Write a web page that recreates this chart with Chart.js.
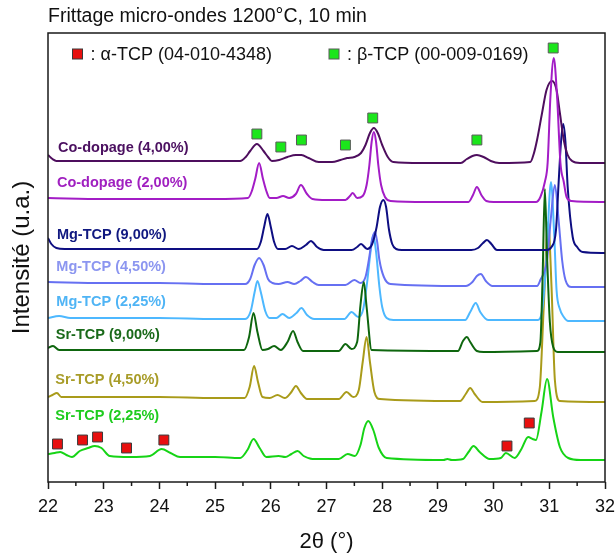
<!DOCTYPE html>
<html>
<head>
<meta charset="utf-8">
<script src="https://cdn.jsdelivr.net/npm/chart.js@4.4.1/dist/chart.umd.min.js"></script>
<style>
  html, body { margin: 0; padding: 0; background: #fff; }
  canvas { display: block; }
</style>
</head>
<body>
<canvas id="xrdChart" width="615" height="556"></canvas>
<script>
// [2θ (°), intensité (u.a.)] - courbes deja decalees comme sur la figure
const sr225 = [[22.00,33],[22.12,34],[22.22,35],[22.33,32],[22.43,30],[22.57,36],[22.72,39],[22.84,41],[22.96,39],[23.11,31],[23.47,30],[23.83,31],[24.04,38],[24.20,34],[24.37,30],[25.00,30],[25.45,29],[25.58,37],[25.69,48],[25.80,39],[25.92,30],[26.14,31],[26.26,30],[26.37,33],[26.48,36],[26.59,31],[26.75,28],[27.22,28],[27.38,33],[27.51,31],[27.61,42],[27.68,59],[27.75,66],[27.84,57],[27.94,39],[28.08,29],[29.10,27],[29.17,28],[29.25,27],[29.45,28],[29.55,35],[29.64,41],[29.75,35],[29.93,28],[30.13,29],[30.22,34],[30.38,29],[30.50,38],[30.62,50],[30.70,48],[30.76,47],[30.86,75],[30.96,108],[31.07,70],[31.19,40],[31.34,29],[31.56,27],[32.00,27]];
const sr450 = [[22.00,90],[22.08,92],[22.16,94],[22.24,90],[23.00,90],[24.00,90],[25.00,89],[25.53,89],[25.62,100],[25.70,121],[25.77,105],[25.85,90],[25.98,89],[26.12,92],[26.25,89],[26.37,95],[26.45,101],[26.54,94],[26.65,88],[27.22,88],[27.36,95],[27.48,90],[27.58,97],[27.65,125],[27.72,150],[27.78,125],[27.86,95],[27.96,88],[29.40,86],[29.50,93],[29.58,99],[29.66,93],[29.80,85],[30.74,86],[30.83,100],[30.90,180],[30.98,265],[31.04,200],[31.10,107],[31.19,86],[32.00,85]];
const sr900 = [[22.00,139],[22.09,141],[22.20,137],[23.00,137],[24.00,137],[25.00,137],[25.52,137],[25.61,150],[25.69,174],[25.76,155],[25.85,137],[25.95,138],[26.06,141],[26.18,137],[26.30,145],[26.40,156],[26.48,145],[26.58,136],[27.22,136],[27.34,143],[27.45,138],[27.55,145],[27.61,182],[27.67,205],[27.72,180],[27.81,137],[29.36,136],[29.45,146],[29.52,150],[29.58,145],[29.70,136],[29.82,135],[30.78,136],[30.84,145],[30.88,210],[30.92,298],[30.96,230],[31.01,165],[31.07,140],[31.15,135],[32.00,135]];
const mg225 = [[22.00,169],[22.20,171],[22.40,169],[23.00,169],[24.00,169],[25.00,168],[25.54,168],[25.64,176],[25.71,195],[25.76,206],[25.82,195],[25.90,176],[25.98,169],[26.10,169],[26.21,173],[26.33,169],[26.46,174],[26.55,179],[26.65,172],[26.78,168],[27.32,168],[27.45,175],[27.57,170],[27.66,178],[27.73,205],[27.79,235],[27.84,252],[27.89,235],[27.95,200],[28.00,180],[28.08,169],[28.20,167],[29.49,167],[29.58,175],[29.68,184],[29.76,175],[29.90,167],[30.80,167],[30.88,180],[30.95,230],[31.03,305],[31.09,250],[31.13,197],[31.19,178],[31.26,170],[31.34,166],[32.00,166]];
const mg450 = [[22.00,205],[23.00,204],[24.00,204],[25.00,203],[25.54,203],[25.63,208],[25.71,222],[25.79,229],[25.87,222],[25.95,208],[26.03,204],[26.14,203],[26.30,205],[26.42,203],[26.53,206],[26.63,210],[26.75,205],[26.86,202],[27.34,202],[27.50,207],[27.61,204],[27.70,210],[27.76,227],[27.82,248],[27.87,255],[27.91,245],[27.95,227],[28.03,210],[28.15,203],[29.50,201],[29.62,205],[29.70,211],[29.77,213],[29.86,206],[29.98,201],[30.78,201],[30.84,207],[30.96,227],[31.03,270],[31.10,302],[31.17,265],[31.23,227],[31.29,207],[31.40,200],[32.00,200]];
const mg900 = [[22.00,249],[22.06,243],[22.15,239],[22.30,238],[23.00,238],[24.00,238],[25.00,238],[25.75,238],[25.82,245],[25.88,260],[25.94,273],[26.00,260],[26.06,245],[26.13,238],[26.26,238],[26.38,241],[26.50,238],[26.63,242],[26.72,246],[26.83,240],[26.95,237],[27.45,237],[27.55,240],[27.62,243],[27.73,238],[27.82,243],[27.90,260],[27.96,280],[28.02,287],[28.07,280],[28.12,258],[28.18,243],[28.25,238],[28.35,237],[29.60,237],[29.72,239],[29.81,244],[29.88,247],[29.96,243],[30.06,237],[30.95,237],[31.04,240],[31.12,257],[31.17,307],[31.21,345],[31.25,363],[31.29,345],[31.33,300],[31.42,250],[31.50,240],[31.60,235],[32.00,234]];
const co200 = [[22.00,289],[23.00,288],[24.00,288],[25.00,288],[25.59,289],[25.66,296],[25.72,308],[25.79,324],[25.86,308],[25.92,296],[25.98,289],[26.10,289],[26.22,291],[26.33,289],[26.45,293],[26.54,302],[26.65,293],[26.75,288],[27.00,287],[27.34,287],[27.42,291],[27.47,294],[27.55,289],[27.65,291],[27.72,302],[27.77,322],[27.81,345],[27.85,355],[27.89,345],[27.93,322],[27.98,302],[28.05,290],[28.15,286],[28.80,285],[29.55,285],[29.63,292],[29.70,300],[29.78,292],[29.87,286],[30.00,285],[30.76,285],[30.84,290],[30.92,305],[30.97,324],[31.02,390],[31.08,429],[31.14,390],[31.20,324],[31.26,305],[31.31,290],[31.40,286],[32.00,285]];
const co400 = [[22.00,332],[22.08,328],[22.15,326],[23.00,326],[24.00,326],[25.00,326],[25.45,326],[25.55,330],[25.63,336],[25.75,343],[25.87,336],[25.95,330],[26.02,326],[26.15,327],[26.30,330],[26.45,332],[26.55,332],[26.68,329],[26.86,325],[27.10,325],[27.25,327],[27.37,329],[27.50,330],[27.62,334],[27.70,342],[27.78,354],[27.85,359],[27.92,354],[28.00,342],[28.10,330],[28.20,325],[28.70,324],[29.41,324],[29.52,328],[29.62,331],[29.70,332],[29.82,330],[29.95,326],[30.10,324],[30.66,325],[30.72,333],[30.78,347],[30.87,374],[30.95,397],[31.05,406],[31.13,397],[31.19,374],[31.26,347],[31.33,332],[31.41,326],[31.55,324],[32.00,324]];

// reperes des phases
const alphaTCP = [[22.17,43],[22.62,47],[22.89,50],[23.41,39],[24.08,47],[30.24,41],[30.64,64]];
const betaTCP = [[25.75,353],[26.18,340],[26.55,347],[27.34,342],[27.83,369],[29.70,347],[31.07,439]];

const xTicks = [22, 23, 24, 25, 26, 27, 28, 29, 30, 31, 32];

const FONT = "'Liberation Sans', Arial, sans-serif";

const series = [
  { name: "Co-dopage (2,00%)", data: co200, color: "#A31CC6", label: "#A020C0", at: [22.16, 304] },
  { name: "Co-dopage (4,00%)", data: co400, color: "#4E0E5E", label: "#4B1060", at: [22.18, 339] },
  { name: "Mg-TCP (9,00%)", data: mg900, color: "#0E0E82", label: "#101880", at: [22.16, 252] },
  { name: "Sr-TCP (9,00%)", data: sr900, color: "#0E660E", label: "#1A6A1A", at: [22.14, 152] },
  { name: "Mg-TCP (4,50%)", data: mg450, color: "#6670F2", label: "#8C96F0", at: [22.15, 220] },
  { name: "Mg-TCP (2,25%)", data: mg225, color: "#4DB8FF", label: "#4FB4F5", at: [22.15, 185] },
  { name: "Sr-TCP (4,50%)", data: sr450, color: "#A99B1A", label: "#A89C28", at: [22.13, 107] },
  { name: "Sr-TCP (2,25%)", data: sr225, color: "#16D416", label: "#1ECC1E", at: [22.13, 71] }
];

const toXY = arr => arr.map(p => ({ x: p[0], y: p[1] }));

const datasets = [
  {
    label: "alpha", data: toXY(alphaTCP), showLine: false,
    pointStyle: "rect", pointRadius: 7, pointHoverRadius: 7,
    backgroundColor: "#E8100F", borderColor: "#3a3a3a", borderWidth: 1
  },
  {
    label: "beta", data: toXY(betaTCP), showLine: false,
    pointStyle: "rect", pointRadius: 7, pointHoverRadius: 7,
    backgroundColor: "#1BE61B", borderColor: "#5a5a5a", borderWidth: 1
  }
].concat(series.map(s => ({
  label: s.name,
  data: toXY(s.data),
  showLine: true,
  borderColor: s.color,
  borderWidth: 2,
  pointRadius: 0,
  cubicInterpolationMode: "monotone",
  fill: false
})));

const decorations = {
  id: "decorations",
  afterDraw(chart) {
    const { ctx, chartArea: a, scales: { x, y } } = chart;
    ctx.save();

    // cadre + graduations secondaires
    ctx.strokeStyle = "#1a1a1a";
    ctx.lineWidth = 1.5;
    ctx.strokeRect(a.left, a.top, a.right - a.left, a.bottom - a.top);
    for (let i = 0; i < xTicks.length - 1; i++) {
      const px = x.getPixelForValue((xTicks[i] + xTicks[i + 1]) / 2);
      ctx.beginPath();
      ctx.moveTo(px, a.bottom);
      ctx.lineTo(px, a.bottom + 4);
      ctx.stroke();
    }

    // titre
    ctx.fillStyle = "#111";
    ctx.textAlign = "left";
    ctx.textBaseline = "middle";
    ctx.font = "19.5px " + FONT;
    ctx.fillText("Frittage micro-ondes 1200°C, 10 min", a.left, 17);

    // legende
    ctx.font = "18px " + FONT;
    const legend = [
      { fill: "#E8100F", edge: "#3a3a3a", cx: 77.5, text: ": α-TCP (04-010-4348)" },
      { fill: "#1BE61B", edge: "#5a5a5a", cx: 334, text: ": β-TCP (00-009-0169)" }
    ];
    legend.forEach(l => {
      ctx.fillStyle = l.fill;
      ctx.fillRect(l.cx - 5, 49, 10, 10);
      ctx.lineWidth = 1;
      ctx.strokeStyle = l.edge;
      ctx.strokeRect(l.cx - 5, 49, 10, 10);
      ctx.fillStyle = "#111";
      ctx.fillText(l.text, l.cx + 13, 55);
    });

    // noms des courbes
    ctx.font = "bold 14.5px " + FONT;
    series.forEach(s => {
      ctx.fillStyle = s.label;
      ctx.fillText(s.name, x.getPixelForValue(s.at[0]), y.getPixelForValue(s.at[1]));
    });
    ctx.restore();
  }
};

new Chart(document.getElementById("xrdChart"), {
  type: "scatter",
  data: { datasets: datasets },
  options: {
    responsive: false,
    animation: false,
    events: [],
    layout: { padding: { top: 33, left: 4, right: 10, bottom: 1 } },
    plugins: { legend: { display: false }, tooltip: { enabled: false } },
    scales: {
      x: {
        type: "linear",
        min: 22,
        max: 32,
        afterBuildTicks: scale => { scale.ticks = xTicks.map(v => ({ value: v })); },
        afterFit: scale => { scale.paddingLeft = 0; scale.paddingRight = 0; },
        border: { display: false },
        grid: { drawOnChartArea: false, drawTicks: true, tickLength: 7, tickWidth: 1.5, tickColor: "#1a1a1a" },
        ticks: { color: "#111", padding: 7, font: { family: FONT, size: 18 }, maxRotation: 0 },
        title: { display: true, text: "2θ (°)", color: "#111", font: { family: FONT, size: 22 }, padding: { top: 4, bottom: 0 } }
      },
      y: {
        type: "linear",
        min: 5,
        max: 454,
        border: { display: false },
        grid: { display: false, drawTicks: false },
        ticks: { display: false },
        title: { display: true, text: "Intensité (u.a.)", color: "#111", font: { family: FONT, size: 24 }, padding: { top: 4, bottom: 11.2 } }
      }
    }
  },
  plugins: [decorations]
});
</script>
</body>
</html>
